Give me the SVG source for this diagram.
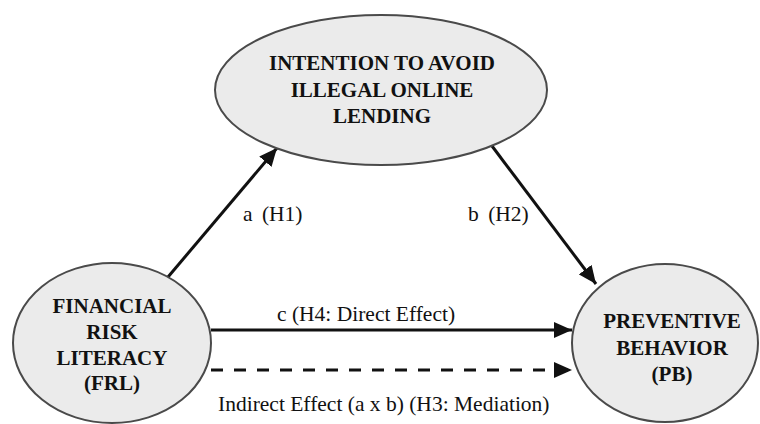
<svg xmlns="http://www.w3.org/2000/svg" width="760" height="424" viewBox="0 0 760 424">
  <defs>
    <marker id="arrow" markerUnits="userSpaceOnUse" markerWidth="18" markerHeight="16" refX="18" refY="8" orient="auto">
      <path d="M0,0 L18,8 L0,16 z" fill="#111"/>
    </marker>
    <style>
      .node { fill: #ebebeb; stroke: #4a4a4a; stroke-width: 2; }
      .title { font-weight: bold; font-size: 21px; fill: #111; text-anchor: middle; }
      .label { font-size: 21.5px; fill: #111; }
      .edge { stroke: #111; stroke-width: 3; fill: none; marker-end: url(#arrow); }
      .dashed { stroke-dasharray: 12 11; }
    </style>
  </defs>
  <rect width="760" height="424" fill="#ffffff"/>

  <g id="connectors" font-family="Liberation Serif, DejaVu Serif, serif">
    <line class="edge" x1="168" y1="277" x2="277" y2="148"/>
    <line class="edge" x1="492" y1="146" x2="596" y2="284"/>
    <line class="edge" x1="211" y1="330" x2="572" y2="330"/>
    <line class="edge dashed" x1="211" y1="370" x2="572" y2="370"/>
    <text class="label" x="243" y="221" word-spacing="4">a (H1)</text>
    <text class="label" x="468" y="221" word-spacing="4">b (H2)</text>
    <text class="label" x="277" y="321" font-size="22">c (H4: Direct Effect)</text>
    <text class="label" x="218" y="411">Indirect Effect (a x b) (H3: Mediation)</text>
  </g>

  <g id="node-intention" font-family="Liberation Serif, DejaVu Serif, serif">
    <ellipse class="node" cx="381" cy="90" rx="166" ry="75"/>
    <text class="title" x="382" y="70">INTENTION TO AVOID</text>
    <text class="title" x="382" y="97">ILLEGAL ONLINE</text>
    <text class="title" x="382" y="123">LENDING</text>
  </g>

  <g id="node-frl" font-family="Liberation Serif, DejaVu Serif, serif">
    <ellipse class="node" cx="112" cy="343" rx="99" ry="80"/>
    <text class="title" x="112" y="313">FINANCIAL</text>
    <text class="title" x="112" y="339">RISK</text>
    <text class="title" x="112" y="365">LITERACY</text>
    <text class="title" x="112" y="390">(FRL)</text>
  </g>

  <g id="node-pb" font-family="Liberation Serif, DejaVu Serif, serif">
    <ellipse class="node" cx="665" cy="343" rx="93" ry="79"/>
    <text class="title" x="672" y="328">PREVENTIVE</text>
    <text class="title" x="672" y="355">BEHAVIOR</text>
    <text class="title" x="672" y="381">(PB)</text>
  </g>
</svg>
